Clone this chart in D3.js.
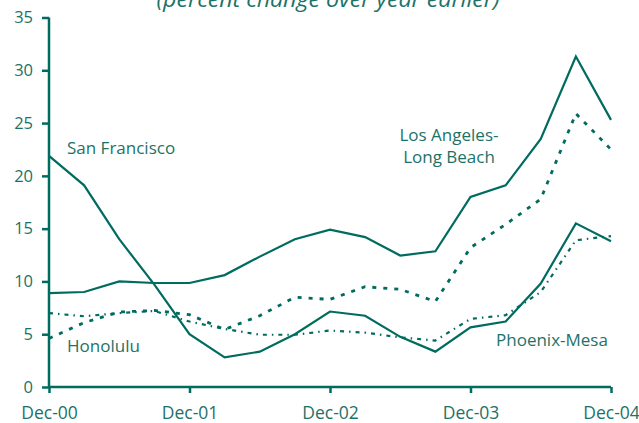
<!DOCTYPE html>
<html>
<head>
<meta charset="utf-8">
<script src="https://cdn.jsdelivr.net/npm/d3@7"></script>
<style>
  html, body { margin: 0; padding: 0; background: #fff; }
  svg { display: block; font-family: "Open Sans", sans-serif; }
  .axis path, .axis line { stroke: #006b5f; stroke-width: 2.5; }
  .axis text { fill: #1d7268; font-family: "Open Sans", sans-serif; }
  .series { fill: none; stroke: #006b5f; stroke-linejoin: miter; }
  .lbl { fill: #1d7268; font-size: 17px; }
</style>
</head>
<body>
<svg id="chart" width="639" height="423"></svg>
<script>
// quarterly observations, Dec-00 .. Dec-04
const quarters = ["Dec-00","Mar-01","Jun-01","Sep-01","Dec-01","Mar-02","Jun-02","Sep-02",
                  "Dec-02","Mar-03","Jun-03","Sep-03","Dec-03","Mar-04","Jun-04","Sep-04","Dec-04"];
const yearTicks = ["Dec-00","Dec-01","Dec-02","Dec-03","Dec-04"];
const yTicks = [0, 5, 10, 15, 20, 25, 30, 35];

const sanFrancisco = [21.9, 19.1, 14.0, 9.7, 5.0, 2.8, 3.35, 5.0, 7.15, 6.75, 4.75, 3.35, 5.65, 6.2, 9.8, 15.5, 13.8];
const losAngeles   = [8.9, 9.0, 10.0, 9.85, 9.85, 10.6, 12.35, 14.0, 14.9, 14.2, 12.45, 12.85, 18.0, 19.1, 23.5, 31.3, 25.3];
const honolulu     = [4.6, 6.1, 7.1, 7.25, 6.85, 5.45, 6.75, 8.5, 8.3, 9.5, 9.25, 8.1, 13.2, 15.4, 17.8, 25.9, 22.5];
const phoenix      = [7.0, 6.7, 7.0, 7.2, 6.2, 5.5, 4.95, 4.95, 5.35, 5.15, 4.7, 4.4, 6.45, 6.8, 9.0, 13.9, 14.3];

const svg = d3.select("#chart");

const x = d3.scalePoint().domain(quarters).range([49, 611]);
const y = d3.scaleLinear().domain([0, 35]).range([387, 17.5]);

// subtitle, mostly cut off at the top like the original
svg.append("text")
    .attr("x", 328)
    .attr("y", 7)
    .attr("text-anchor", "middle")
    .attr("textLength", 343)
    .attr("lengthAdjust", "spacingAndGlyphs")
    .style("font-size", "22px")
    .style("font-style", "italic")
    .style("fill", "#1d7268")
    .text("(percent change over year earlier)");

const line = d3.line()
    .x((d, i) => x(quarters[i]))
    .y(d => y(d));

const series = [
    { name: "San Francisco", values: sanFrancisco, dash: null, width: 2.2 },
    { name: "Los Angeles-Long Beach", values: losAngeles, dash: null, width: 2.2 },
    { name: "Honolulu", values: honolulu, dash: "4,7", width: 2.8 },
    { name: "Phoenix-Mesa", values: phoenix, dash: "4,5,1.5,5", width: 2.2 }
];

svg.selectAll("path.series")
    .data(series)
    .enter().append("path")
    .attr("class", "series")
    .attr("d", d => line(d.values))
    .attr("stroke-width", d => d.width)
    .attr("stroke-dasharray", d => d.dash);

// axes
const yAxis = svg.append("g")
    .attr("class", "axis")
    .attr("transform", "translate(49,0)")
    .call(d3.axisLeft(y).tickValues(yTicks).tickSize(7).tickSizeOuter(0).tickPadding(9));
yAxis.selectAll("text").style("font-size", "16.5px");

const xAxis = svg.append("g")
    .attr("class", "axis")
    .attr("transform", "translate(0,387)")
    .call(d3.axisBottom(x).tickValues(yearTicks).tickSize(6).tickSizeOuter(0).tickPadding(0));
xAxis.selectAll("text")
    .style("font-size", "17.5px")
    .attr("dy", null)
    .attr("y", 32);

xAxis.select(".domain").attr("d", `M${x.range()[0]},0H${x.range()[1]}`);
yAxis.select(".domain").attr("d", `M0,${y(0) + 1}V${y(35)}`);

// direct labels
const labels = [
    { lines: ["San Francisco"], x: 67, y: 154, anchor: "start" },
    { lines: ["Los Angeles-", "Long Beach"], x: 449, y: 141, anchor: "middle" },
    { lines: ["Honolulu"], x: 67, y: 352, anchor: "start" },
    { lines: ["Phoenix-Mesa"], x: 496, y: 346, anchor: "start" }
];

labels.forEach(l => {
    const t = svg.append("text")
        .attr("class", "lbl")
        .attr("x", l.x)
        .attr("y", l.y)
        .attr("text-anchor", l.anchor);
    l.lines.forEach((s, i) => {
        t.append("tspan").attr("x", l.x).attr("dy", i === 0 ? 0 : 22).text(s);
    });
});
</script>
</body>
</html>
